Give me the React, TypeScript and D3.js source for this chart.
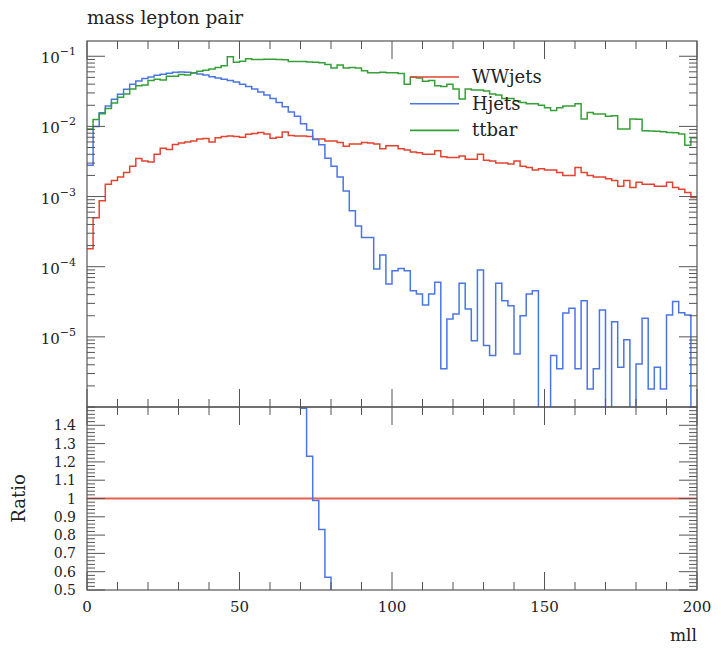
import React from 'react';
import * as d3 from 'd3';

// ---------------- data ----------------
const BIN_WIDTH = 2;
const binLow: number[] = d3.range(0, 200, BIN_WIDTH);

const wwjets = [
  0.00018, 0.0005, 0.00087, 0.0015, 0.0017, 0.0019, 0.0022, 0.0027, 0.0035, 0.0032,
  0.0031, 0.004, 0.0049, 0.0047, 0.0055, 0.0058, 0.006, 0.0062, 0.0066, 0.0067,
  0.006, 0.0069, 0.0072, 0.0073, 0.0072, 0.007, 0.0077, 0.0079, 0.0082, 0.0078,
  0.0068, 0.007, 0.0083, 0.0074, 0.0073, 0.0073, 0.0072, 0.0066, 0.0066, 0.0062,
  0.0062, 0.0059, 0.0052, 0.0056, 0.0056, 0.0059, 0.0058, 0.0056, 0.0048, 0.0053,
  0.0053, 0.0048, 0.0046, 0.0043, 0.0042, 0.004, 0.004, 0.0045, 0.0037, 0.0036,
  0.0036, 0.0038, 0.0034, 0.0034, 0.004, 0.0033, 0.0032, 0.003, 0.003, 0.0029,
  0.0032, 0.0027, 0.0026, 0.0024, 0.0025, 0.0024, 0.0024, 0.0022, 0.002, 0.002,
  0.0026, 0.0022, 0.002, 0.0019, 0.0019, 0.0018, 0.0017, 0.0014, 0.0017, 0.00135,
  0.0016, 0.0015, 0.0015, 0.0014, 0.0014, 0.0016, 0.00135, 0.00127, 0.00114, 0.00097,
];

const hjets = [
  0.0028, 0.01, 0.0157, 0.0196, 0.0243, 0.0287, 0.0338, 0.04, 0.0444, 0.048,
  0.0506, 0.0535, 0.0553, 0.0572, 0.059, 0.0596, 0.059, 0.0578, 0.056, 0.054,
  0.051, 0.049, 0.047, 0.045, 0.043, 0.04, 0.037, 0.034, 0.031, 0.028,
  0.025, 0.022, 0.019, 0.016, 0.014, 0.0109, 0.00886, 0.00653, 0.00548, 0.00353,
  0.0027, 0.0019, 0.0012, 0.00063, 0.00038, 0.00026, 0.00026, 0.000093, 0.000147, 0.0000566,
  0.0000875, 0.0000946, 0.0000875, 0.0000455, 0.0000408, 0.0000284, 0.0000408, 0.00006, 0.0000035, 0.000018,
  0.0000212, 0.000058, 0.0000249, 0.0000088, 0.00009, 0.0000075, 0.0000054, 0.000058, 0.0000327, 0.0000278,
  0.0000057, 0.00002, 0.0000408, 0.0000455, 0, 0, 0.0000054, 0.0000035, 0.0000219, 0.0000255,
  0.0000035, 0.0000327, 0.0000018, 0.0000035, 0.0000242, 0, 0.0000164, 0.0000037, 0.0000091, 0,
  0.0000041, 0.0000184, 0.0000018, 0.0000037, 0.0000018, 0.0000205, 0.000032, 0.000022, 0.0000205, 0,
];

const ttbar = [
  0.0092, 0.0125, 0.0152, 0.018, 0.0215, 0.026, 0.029, 0.034, 0.038, 0.039,
  0.045, 0.047, 0.046, 0.052, 0.052, 0.055, 0.054, 0.058, 0.061, 0.063,
  0.066, 0.069, 0.073, 0.098, 0.082, 0.085, 0.092, 0.09, 0.09, 0.091,
  0.091, 0.09, 0.089, 0.084, 0.084, 0.084, 0.083, 0.082, 0.081, 0.076,
  0.068, 0.075, 0.068, 0.069, 0.068, 0.062, 0.058, 0.058, 0.059, 0.058,
  0.058, 0.057, 0.04, 0.05, 0.049, 0.044, 0.045, 0.038, 0.037, 0.04,
  0.034, 0.0245, 0.034, 0.033, 0.033, 0.032, 0.029, 0.028, 0.025, 0.025,
  0.023, 0.022, 0.021, 0.021, 0.02, 0.0185, 0.0168, 0.0185, 0.0195, 0.0195,
  0.021, 0.0128, 0.0158, 0.015, 0.015, 0.014, 0.0142, 0.0092, 0.0092, 0.0128,
  0.0126, 0.0087, 0.0086, 0.0085, 0.0084, 0.0082, 0.0081, 0.0078, 0.0054, 0.0069,
];

const seriesNames = ['WWjets', 'Hjets', 'ttbar'];
const seriesValues = [wwjets, hjets, ttbar];
const seriesColors = ['#e4432f', '#4a76e4', '#35a035'];

const xMajorTicks = [0, 50, 100, 150, 200];
const xMinorStep = 10;
const yDecades = [-1, -2, -3, -4, -5];
const ratioTicks = [0.5, 0.6, 0.7, 0.8, 0.9, 1.0, 1.1, 1.2, 1.3, 1.4];
const ratioTickLabels = ['0.5', '0.6', '0.7', '0.8', '0.9', '1', '1.1', '1.2', '1.3', '1.4'];

const title = 'mass lepton pair';
const xLabel = 'mll';
const ratioLabel = 'Ratio';

// ---------------- layout ----------------
const W = 721;
const H = 648;
const L = 87;
const R = 697;
const T = 41;
const M = 407;
const B = 590;
const FONT = "'DejaVu Serif', 'Liberation Serif', serif";
const FRAME = '#555';

export default function App() {
  const x = d3.scaleLinear().domain([0, 200]).range([L, R]);
  const y = d3.scaleLog().domain([1e-6, 0.165]).range([M, T]);
  const yr = d3.scaleLinear().domain([0.5, 1.5]).range([B, M]);

  const stepPath = (vals: number[], yFn: (v: number) => number) => {
    let d = '';
    vals.forEach((v, i) => {
      const x0 = x(binLow[i]);
      const x1 = x(binLow[i] + BIN_WIDTH);
      const yy = yFn(v);
      d += (i === 0 ? `M${x0},${yy}` : `L${x0},${yy}`) + `L${x1},${yy}`;
    });
    return d;
  };

  const logY = (v: number) => (v > 0 ? y(v) : M + 200);
  const ratioY = (v: number) => yr(Math.max(-1, Math.min(4, v)));

  // ticks
  const xMinor = d3.range(0, 201, xMinorStep).filter((v) => !xMajorTicks.includes(v));
  const logMinor: number[] = [];
  for (let dec = -6; dec <= -1; dec++) {
    for (let k = 2; k <= 9; k++) {
      const v = k * Math.pow(10, dec);
      if (v > 1e-6 && v < 0.165) logMinor.push(v);
    }
  }
  const ratioMinor = d3.range(0.5, 1.5001, 0.02).filter(
    (v) => !ratioTicks.some((t) => Math.abs(t - v) < 1e-6)
  );

  const MAJ = 18;
  const MIN = 8;
  const tickStyle = { stroke: FRAME, strokeWidth: 1 };

  const xTickLines = (yEdge: number, dir: number, keyP: string) => (
    <g key={keyP}>
      {xMajorTicks.map((v) => (
        <line key={`${keyP}M${v}`} x1={x(v)} x2={x(v)} y1={yEdge} y2={yEdge + dir * MAJ} {...tickStyle} />
      ))}
      {xMinor.map((v) => (
        <line key={`${keyP}m${v}`} x1={x(v)} x2={x(v)} y1={yEdge} y2={yEdge + dir * MIN} {...tickStyle} />
      ))}
    </g>
  );

  return (
    <svg
      width={W}
      height={H}
      style={{ position: 'absolute', left: 0, top: 0, background: '#fff' }}
      fontFamily={FONT}
    >
      <defs>
        <clipPath id="clipTop">
          <rect x={L} y={T} width={R - L} height={M - T} />
        </clipPath>
        <clipPath id="clipRatio">
          <rect x={L} y={M} width={R - L} height={B - M} />
        </clipPath>
      </defs>
      <rect x={0} y={0} width={W} height={H} fill="#fff" />

      {/* title */}
      <text x={L} y={24} fontSize={18.5} fill="#222">{title}</text>

      {/* main histograms */}
      <g clipPath="url(#clipTop)">
        {seriesValues.map((vals, si) => (
          <path key={seriesNames[si]} d={stepPath(vals, logY)} fill="none" stroke={seriesColors[si]} strokeWidth={1.5} />
        ))}
      </g>

      {/* ratio */}
      <g clipPath="url(#clipRatio)">
        {seriesValues.map((vals, si) => (
          <path
            key={`r${seriesNames[si]}`}
            d={stepPath(vals.map((v, i) => v / wwjets[i]), ratioY)}
            fill="none"
            stroke={seriesColors[si]}
            strokeWidth={si === 0 ? 2 : 1.5}
            strokeOpacity={si === 0 ? 0.85 : 1}
          />
        ))}
      </g>

      {/* legend */}
      {seriesNames.map((name, i) => {
        const ly = 77 + i * 26.7;
        return (
          <g key={`leg${name}`}>
            <line x1={410} x2={459} y1={ly} y2={ly} stroke={seriesColors[i]} strokeWidth={1.6} />
            <text x={472} y={ly + 6} fontSize={18} fill="#222">{name}</text>
          </g>
        );
      })}

      {/* frames */}
      <rect x={L} y={T} width={R - L} height={M - T} fill="none" stroke={FRAME} strokeWidth={1.2} />
      <rect x={L} y={M} width={R - L} height={B - M} fill="none" stroke={FRAME} strokeWidth={1.2} />

      {/* x ticks */}
      {xTickLines(T, 1, 'tt')}
      {xTickLines(M, -1, 'tb')}
      {xTickLines(M, 1, 'rt')}
      {xTickLines(B, -1, 'rb')}

      {/* y log ticks */}
      {yDecades.map((d) => {
        const yy = y(Math.pow(10, d));
        return (
          <g key={`yd${d}`}>
            <line x1={L} x2={L + MAJ} y1={yy} y2={yy} {...tickStyle} />
            <line x1={R} x2={R - MAJ} y1={yy} y2={yy} {...tickStyle} />
            <text x={76} y={yy + 7} fontSize={15} textAnchor="end" fill="#222">
              <tspan>10</tspan>
              <tspan dy={-8} fontSize={11}>{`\u2212${-d}`}</tspan>
            </text>
          </g>
        );
      })}
      {logMinor.map((v, i) => {
        const yy = y(v);
        return (
          <g key={`ym${i}`}>
            <line x1={L} x2={L + MIN} y1={yy} y2={yy} {...tickStyle} />
            <line x1={R} x2={R - MIN} y1={yy} y2={yy} {...tickStyle} />
          </g>
        );
      })}

      {/* ratio y ticks */}
      {ratioTicks.map((v, i) => {
        const yy = yr(v);
        return (
          <g key={`rt${i}`}>
            <line x1={L} x2={L + MAJ} y1={yy} y2={yy} {...tickStyle} />
            <line x1={R} x2={R - MAJ} y1={yy} y2={yy} {...tickStyle} />
            <text x={76} y={yy + 5} fontSize={14} textAnchor="end" fill="#222">{ratioTickLabels[i]}</text>
          </g>
        );
      })}
      {ratioMinor.map((v, i) => {
        const yy = yr(v);
        return (
          <g key={`rm${i}`}>
            <line x1={L} x2={L + MIN} y1={yy} y2={yy} {...tickStyle} />
            <line x1={R} x2={R - MIN} y1={yy} y2={yy} {...tickStyle} />
          </g>
        );
      })}

      {/* x tick labels */}
      {xMajorTicks.map((v) => (
        <text key={`xl${v}`} x={x(v)} y={612} fontSize={15} textAnchor="middle" fill="#222">{v}</text>
      ))}

      {/* axis labels */}
      <text x={R} y={641} fontSize={17} textAnchor="end" fill="#222">{xLabel}</text>
      <text transform={`translate(25,${yr(1)}) rotate(-90)`} fontSize={18} textAnchor="middle" fill="#222">{ratioLabel}</text>
    </svg>
  );
}
